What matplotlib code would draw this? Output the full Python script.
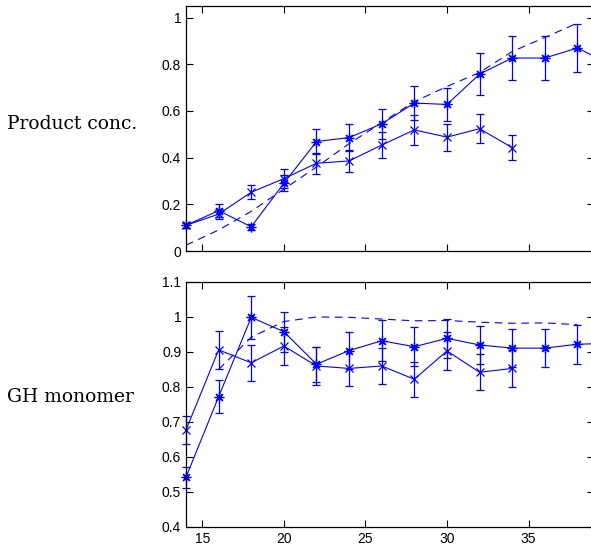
import numpy as np
import matplotlib
matplotlib.use("Agg")
import matplotlib.pyplot as plt
from matplotlib.ticker import FormatStrFormatter

# ---------- Data ----------
t_long = [14, 16, 18, 20, 22, 24, 26, 28, 30, 32, 34, 36, 38, 40]
t_short = [14, 16, 18, 20, 22, 24, 26, 28, 30, 32, 34]

# product concentration
prod_a = [0.11, 0.173, 0.104, 0.29, 0.469, 0.486, 0.545, 0.634, 0.628, 0.758, 0.827, 0.827, 0.87, 0.80]
prod_a_err = [0.012, 0.027, 0.012, 0.035, 0.053, 0.058, 0.063, 0.074, 0.07, 0.09, 0.093, 0.096, 0.104, 0.1]
prod_b = [0.11, 0.158, 0.252, 0.31, 0.376, 0.386, 0.454, 0.519, 0.488, 0.524, 0.443]
prod_b_err = [0.01, 0.02, 0.03, 0.04, 0.046, 0.046, 0.056, 0.064, 0.058, 0.063, 0.052]
t_prod_model = [14, 16, 18, 20, 22, 24, 26, 28, 30, 32, 34, 36, 38]
prod_model = [0.025, 0.09, 0.17, 0.265, 0.36, 0.46, 0.55, 0.64, 0.705, 0.765, 0.855, 0.915, 0.977]

# GH monomer
mono_a = [0.542, 0.772, 0.999, 0.958, 0.865, 0.904, 0.932, 0.915, 0.939, 0.92, 0.911, 0.911, 0.922, 0.925]
mono_a_err = [0.03, 0.047, 0.061, 0.057, 0.05, 0.052, 0.058, 0.055, 0.055, 0.055, 0.054, 0.055, 0.055, 0.055]
mono_b = [0.677, 0.906, 0.869, 0.917, 0.86, 0.853, 0.86, 0.822, 0.903, 0.842, 0.853]
mono_b_err = [0.039, 0.055, 0.051, 0.055, 0.054, 0.05, 0.051, 0.05, 0.054, 0.051, 0.052]
t_mono_model = [16, 18, 20, 22, 24, 26, 28, 30, 32, 34, 36, 38]
mono_model = [0.85, 0.942, 0.987, 1.0, 0.999, 0.994, 0.989, 0.99, 0.985, 0.982, 0.983, 0.978]

blue = (0, 0, 1)
asterisk = (8, 2, 0)

plt.rcParams['font.family'] = ['Liberation Sans', 'DejaVu Sans']
plt.rcParams['font.size'] = 10

fig = plt.figure(figsize=(5.91, 5.49), dpi=100)
ax1 = fig.add_axes([0.3147, 0.5428, 0.690, 0.4463])
ax2 = fig.add_axes([0.3147, 0.0401, 0.690, 0.4463])


def draw(ax, ya, ea, yb, eb, tm, ym):
    for t, y, e, mk, ms in [(t_long, ya, ea, asterisk, 7), (t_short, yb, eb, 'x', 6)]:
        cont = ax.errorbar(t, y, yerr=e, color=blue, lw=0.8, elinewidth=0.9,
                           capsize=3, marker=mk, ms=ms, mew=0.9)
        for art in cont.get_children():
            art.set_clip_on(False)
    ax.plot(tm, ym, '--', color=blue, lw=0.8, dashes=(7, 5))
    ax.set_xlim(14, 39)
    ax.set_xticks([15, 20, 25, 30, 35])
    ax.tick_params(direction='in', top=True, right=True, length=5, width=0.8)
    for s in ax.spines.values():
        s.set_linewidth(0.9)
    ax.yaxis.set_major_formatter(FormatStrFormatter('%g'))


# ---------- Product conc. ----------
draw(ax1, prod_a, prod_a_err, prod_b, prod_b_err, t_prod_model, prod_model)
ax1.set_ylim(0, 1.05)
ax1.set_yticks([0, 0.2, 0.4, 0.6, 0.8, 1])
ax1.tick_params(labelbottom=False)

# ---------- GH monomer ----------
draw(ax2, mono_a, mono_a_err, mono_b, mono_b_err, t_mono_model, mono_model)
ax2.set_ylim(0.4, 1.1)
ax2.set_yticks([0.4, 0.5, 0.6, 0.7, 0.8, 0.9, 1, 1.1])

fig.text(7/591, 1 - 124/549, "Product conc.", family='DejaVu Serif', fontsize=13.5,
         ha='left', va='center')
fig.text(7/591, 1 - 397/549, "GH monomer", family='DejaVu Serif', fontsize=13.5,
         ha='left', va='center')

fig.savefig("out.png", dpi=100)
